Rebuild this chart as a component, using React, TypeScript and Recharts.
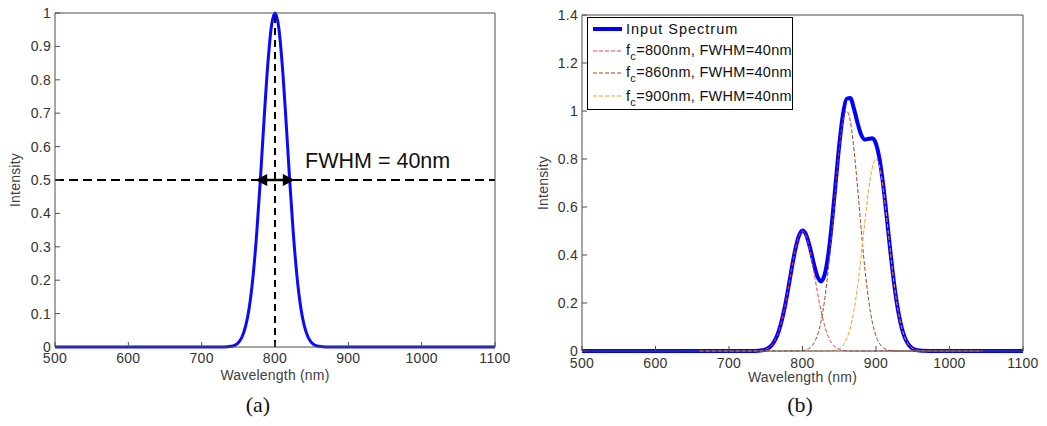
import React from "react";
import { LineChart, Line, XAxis, YAxis, ReferenceLine, ReferenceDot, Legend } from "recharts";

// shared axis ticks
const xTicks = [500, 600, 700, 800, 900, 1000, 1100];
const leftYTicks = [0, 0.1, 0.2, 0.3, 0.4, 0.5, 0.6, 0.7, 0.8, 0.9, 1];
const rightYTicks = [0, 0.2, 0.4, 0.6, 0.8, 1, 1.2, 1.4];

// (a) single source, fc = 800nm
const leftWavelength = [
  500, 600, 700, 730, 740, 745, 750, 755, 760, 765, 770, 775, 780, 785, 790, 795, 800,
  805, 810, 815, 820, 825, 830, 835, 840, 845, 850, 855, 860, 870, 900, 1000, 1100,
];
const leftIntensity = [
  0, 0, 0, 0, 0.002, 0.005, 0.013, 0.03, 0.063, 0.12, 0.211, 0.339, 0.5, 0.678, 0.841, 0.958, 1,
  0.958, 0.841, 0.678, 0.5, 0.339, 0.211, 0.12, 0.063, 0.03, 0.013, 0.005, 0.002, 0, 0, 0, 0,
];

// (b) input spectrum made of three sources
const rightWavelength = [
  500, 600, 660, 700, 730,
  740, 745, 750, 755, 760, 765, 770, 775, 780, 785, 790, 795,
  800, 805, 810, 815, 820, 825, 830, 835, 840, 845, 850, 855, 860, 865, 870, 875, 880, 885, 890, 895,
  900, 905, 910, 915, 920, 925, 930, 935, 940, 945, 950, 955, 960, 965,
  980, 1000, 1045, 1100,
];
const inputSpectrum = [
  0, 0, 0, 0, 0,
  0.001, 0.003, 0.007, 0.015, 0.032, 0.06, 0.106, 0.17, 0.25, 0.339, 0.42, 0.479,
  0.502, 0.484, 0.433, 0.369, 0.313, 0.29, 0.317, 0.4, 0.534, 0.697, 0.858, 0.985, 1.051, 1.054, 1.01, 0.949, 0.9, 0.881, 0.884, 0.886,
  0.863, 0.796, 0.686, 0.547, 0.402, 0.272, 0.169, 0.096, 0.05, 0.024, 0.01, 0.004, 0.002, 0.001,
  0, 0, 0, 0,
];
const comp800 = [
  null, null, 0, 0, 0,
  0.001, 0.003, 0.007, 0.015, 0.032, 0.06, 0.106, 0.17, 0.25, 0.339, 0.42, 0.479,
  0.5, 0.479, 0.42, 0.339, 0.25, 0.17, 0.106, 0.06, 0.032, 0.015, 0.007, 0.003, 0.001, 0, 0, 0, 0, 0, 0, 0,
  0, 0, 0, 0, 0, 0, 0, 0, 0, 0, 0, 0, 0, 0,
  0, 0, 0, null,
];
const comp860 = [
  null, null, 0, 0, 0,
  0, 0, 0, 0, 0, 0, 0, 0, 0, 0, 0, 0,
  0.002, 0.005, 0.013, 0.03, 0.063, 0.12, 0.211, 0.339, 0.5, 0.678, 0.841, 0.958, 1, 0.958, 0.841, 0.678, 0.5, 0.339, 0.211, 0.12,
  0.063, 0.03, 0.013, 0.005, 0.002, 0, 0, 0, 0, 0, 0, 0, 0, 0,
  0, 0, 0, null,
];
const comp900 = [
  null, null, 0, 0, 0,
  0, 0, 0, 0, 0, 0, 0, 0, 0, 0, 0, 0,
  0, 0, 0, 0, 0, 0, 0, 0.001, 0.002, 0.004, 0.01, 0.024, 0.05, 0.096, 0.169, 0.271, 0.4, 0.542, 0.673, 0.766,
  0.8, 0.766, 0.673, 0.542, 0.4, 0.271, 0.169, 0.096, 0.05, 0.024, 0.01, 0.004, 0.002, 0.001,
  0, 0, 0, null,
];

const componentCenters = [800, 860, 900];
const componentKeys = ["c800", "c860", "c900"];
const componentColors = ["#ff3b3b", "#a3471c", "#ff9b1f"];

const FONT = '"Liberation Sans", Arial, sans-serif';
const AXIS = "#4d4d4d";
const TEXT = "#333";

const leftData = leftWavelength.map((wl, i) => ({ wl, intensity: leftIntensity[i] }));
const rightData = rightWavelength.map((wl, i) => ({
  wl,
  input: inputSpectrum[i],
  c800: comp800[i],
  c860: comp860[i],
  c900: comp900[i],
}));

const tickStyle = { fontSize: 14, fill: TEXT, fontFamily: FONT, letterSpacing: 0.3 };
const axisLabelStyle = { fontSize: 14, fill: "#404040", fontFamily: FONT, letterSpacing: 0.2 };

// MATLAB-like box: inward ticks on all four sides
function frameAxes(
  yTicks: number[],
  yMax: number,
  yWidth: number,
  labelX: number,
  xTickGap: number,
  xLabelOffset: number
) {
  return [
    <XAxis
      key="xb"
      type="number"
      dataKey="wl"
      domain={[500, 1100]}
      ticks={xTicks}
      tick={tickStyle}
      tickSize={-5}
      tickMargin={xTickGap}
      height={30}
      axisLine={{ stroke: AXIS }}
      tickLine={{ stroke: AXIS }}
      label={{ value: "Wavelength (nm)", position: "insideBottom", offset: xLabelOffset, style: axisLabelStyle }}
    />,
    <XAxis
      key="xt"
      xAxisId="top"
      orientation="top"
      type="number"
      dataKey="wl"
      domain={[500, 1100]}
      ticks={xTicks}
      tick={false}
      tickSize={-5}
      height={1}
      axisLine={{ stroke: AXIS }}
      tickLine={{ stroke: AXIS }}
    />,
    <YAxis
      key="yl"
      type="number"
      domain={[0, yMax]}
      ticks={yTicks}
      tick={tickStyle}
      tickSize={-5}
      tickMargin={9}
      width={yWidth}
      axisLine={{ stroke: AXIS }}
      tickLine={{ stroke: AXIS }}
      label={{
        value: "Intensity",
        angle: -90,
        position: "insideLeft",
        offset: labelX,
        style: { ...axisLabelStyle, textAnchor: "middle" },
      }}
    />,
    <YAxis
      key="yr"
      yAxisId="right"
      orientation="right"
      type="number"
      domain={[0, yMax]}
      ticks={yTicks}
      tick={false}
      tickSize={-5}
      width={1}
      axisLine={{ stroke: AXIS }}
      tickLine={{ stroke: AXIS }}
    />,
  ];
}

const arrowHead = (dir: number) => (props: any) => {
  const { cx, cy } = props;
  const base = cx - dir * 12;
  return <polygon points={`${cx},${cy} ${base},${cy - 6} ${base},${cy + 6}`} fill="#000" />;
};

const FwhmText = (props: any) => (
  <text x={props.cx} y={props.cy} fontSize={21.5} fontFamily={FONT} fill="#111">
    FWHM = 40nm
  </text>
);

function SpectrumLegend() {
  const rowStyle: React.CSSProperties = { display: "flex", alignItems: "center", whiteSpace: "nowrap" };
  const rowHeights = [22, 21, 23, 24];
  return (
    <div
      style={{
        width: 206,
        height: 93,
        boxSizing: "border-box",
        border: "1px solid #000",
        background: "#fff",
        fontFamily: FONT,
        fontSize: 14.5,
        color: "#111",
        paddingLeft: 5,
        lineHeight: 1,
        overflow: "visible",
      }}
    >
      <div style={{ ...rowStyle, height: rowHeights[0] }}>
        <svg width={29} height={6} style={{ marginRight: 4, flex: "none" }}>
          <line x1={0} y1={3} x2={29} y2={3} stroke="#0000ff" strokeWidth={4} />
        </svg>
        <span style={{ letterSpacing: 1 }}>Input Spectrum</span>
      </div>
      {componentCenters.map((fc, i) => (
        <div key={fc} style={{ ...rowStyle, height: rowHeights[i + 1] }}>
          <svg width={29} height={4} style={{ marginRight: 4, flex: "none" }}>
            <line x1={0} y1={2} x2={29} y2={2} stroke={componentColors[i]} strokeWidth={1} strokeDasharray="4 2" />
          </svg>
          <span style={{ letterSpacing: 0.3 }}>
            f<sub style={{ fontSize: 11, verticalAlign: -5, lineHeight: 0 }}>c</sub>={fc}nm, FWHM=40nm
          </span>
        </div>
      ))}
    </div>
  );
}

function SingleSourceChart() {
  return (
    <LineChart width={520} height={400} data={leftData} margin={{ top: 12, right: 24, bottom: 23, left: 0 }}>
      {frameAxes(leftYTicks, 1, 55, 15, 11, -3)}
      <ReferenceLine y={0.5} stroke="#000" strokeWidth={2} strokeDasharray="9 5" />
      <ReferenceLine x={800} stroke="#000" strokeWidth={2} strokeDasharray="7 5" />
      <ReferenceLine
        segment={[
          { x: 780, y: 0.5 },
          { x: 820, y: 0.5 },
        ]}
        stroke="#000"
        strokeWidth={2.5}
      />
      <Line
        type="monotone"
        dataKey="intensity"
        stroke="#0a0aff"
        strokeWidth={3}
        dot={false}
        isAnimationActive={false}
      />
      <ReferenceDot x={773} y={0.5} r={0} shape={arrowHead(-1)} />
      <ReferenceDot x={827} y={0.5} r={0} shape={arrowHead(1)} />
      <ReferenceDot x={841} y={0.535} r={0} shape={FwhmText} />
    </LineChart>
  );
}

function CombinedChart() {
  return (
    <LineChart width={527} height={400} data={rightData} margin={{ top: 14, right: 23, bottom: 19, left: 0 }}>
      {frameAxes(rightYTicks, 1.4, 62, 23, 12, -1)}
      <Line
        type="monotone"
        dataKey="input"
        stroke="#0000ff"
        strokeWidth={4}
        dot={false}
        isAnimationActive={false}
      />
      {componentKeys.map((key, i) => (
        <Line
          key={key}
          type="monotone"
          dataKey={key}
          stroke={componentColors[i]}
          strokeWidth={1}
          strokeDasharray="4 2"
          dot={false}
          isAnimationActive={false}
        />
      ))}
      <Legend
        layout="vertical"
        align="center"
        verticalAlign="middle"
        wrapperStyle={{ left: 67, top: 17, width: 206 }}
        content={() => <SpectrumLegend />}
      />
    </LineChart>
  );
}

const captionStyle: React.CSSProperties = {
  position: "absolute",
  top: 392,
  width: 60,
  textAlign: "center",
  fontFamily: '"Liberation Serif", "Times New Roman", serif',
  fontSize: 22,
  color: "#111",
};

export default function App() {
  return (
    <div style={{ position: "absolute", left: 0, top: 0, width: 1047, height: 426, background: "#fff" }}>
      <div style={{ position: "absolute", left: 0, top: 0 }}>
        <SingleSourceChart />
      </div>
      <div style={{ position: "absolute", left: 520, top: 0 }}>
        <CombinedChart />
      </div>
      <div style={{ ...captionStyle, left: 228 }}>(a)</div>
      <div style={{ ...captionStyle, left: 770 }}>(b)</div>
    </div>
  );
}
